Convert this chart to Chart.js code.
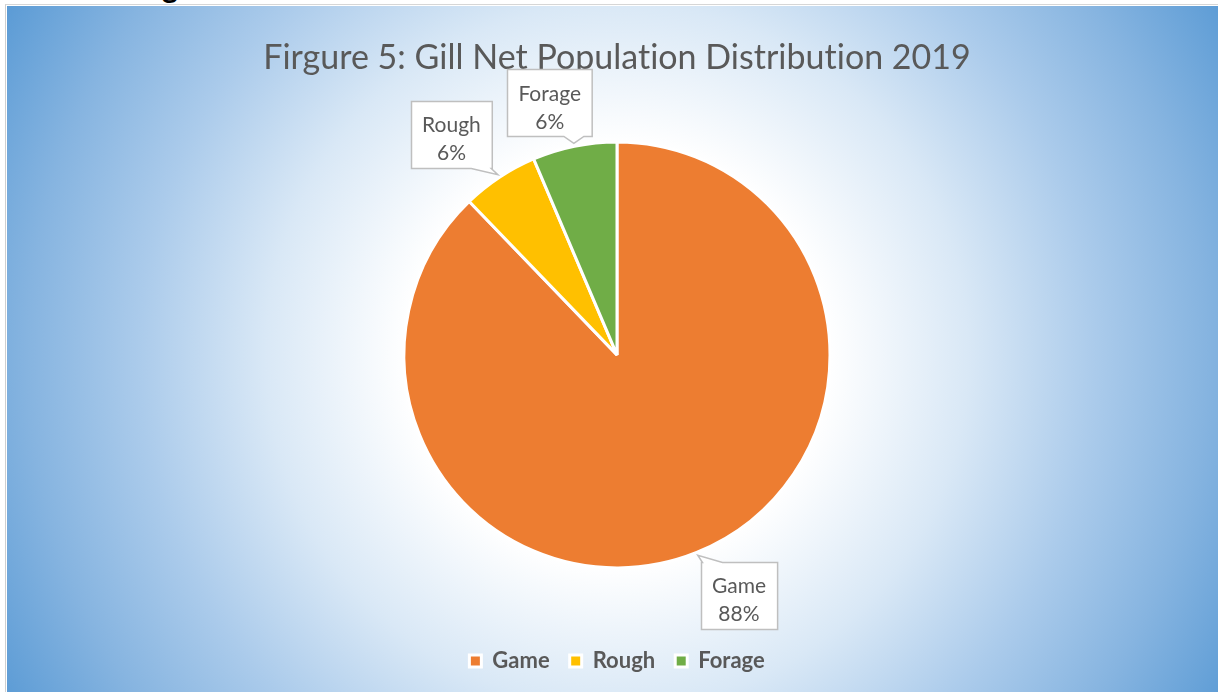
<!DOCTYPE html>
<html>
<head>
<meta charset="utf-8">
<title>Gill Net Population Distribution 2019</title>
<script src="https://cdn.jsdelivr.net/npm/chart.js@4.4.1/dist/chart.umd.min.js"></script>
<style>
  html, body { margin: 0; padding: 0; background: #fff; width: 1218px; height: 692px; overflow: hidden; }
  #cut { position: absolute; left: 150px; top: 0; width: 60px; height: 4px; overflow: hidden; }
  #cut span { position: absolute; left: 12px; top: -29px; font: bold 30px/30px Lato, sans-serif; color: #000; }
  #frame { position: absolute; left: 5px; top: 4px; width: 1213px; height: 688px; box-sizing: border-box;
           border-left: 1px solid #cfcfcf; border-top: 1px solid #d6d6d6; }
  #wrap { position: absolute; left: 7px; top: 6px; width: 1211px; height: 686px; }
</style>
</head>
<body>
<div id="cut"><span>g</span></div>
<div id="frame"></div>
<div id="wrap"><canvas id="pieChart"></canvas></div>
<script>
// data
const categories = ['Game', 'Rough', 'Forage'];
const shares = [87.8, 5.8, 6.4];
const sliceColors = ['#ED7D31', '#FFC000', '#70AD47'];
const chartTitle = 'Firgure 5: Gill Net Population Distribution 2019';

const FONT = 'Lato, "Open Sans", sans-serif';
const TEXT = '#595959';

// radial background, white in the middle and blue at the edges
const backdrop = {
  id: 'backdrop',
  beforeDraw(chart) {
    const { ctx, width, height, chartArea } = chart;
    // tiny spacing so the canvas text has no "ti" ligatures
    ctx.letterSpacing = '0.01px';
    const cx = (chartArea.left + chartArea.right) / 2;
    const cy = (chartArea.top + chartArea.bottom) / 2;
    const r = Math.max(
      Math.hypot(cx, cy), Math.hypot(width - cx, cy),
      Math.hypot(cx, height - cy), Math.hypot(width - cx, height - cy)
    );
    const g = ctx.createRadialGradient(cx, cy, 0, cx, cy, r);
    g.addColorStop(0, '#ffffff');
    g.addColorStop(0.3, '#ffffff');
    g.addColorStop(0.5, '#d9e8f6');
    g.addColorStop(0.68, '#abcbeb');
    g.addColorStop(0.84, '#86b4e0');
    g.addColorStop(1, '#5b9bd5');
    ctx.save();
    ctx.fillStyle = g;
    ctx.fillRect(0, 0, width, height);
    ctx.restore();
  }
};

function boxPath(ctx, l, t, r, b, tip) {
  const clamp = (v, lo, hi) => Math.min(Math.max(v, lo), hi);
  const half = 10;
  ctx.beginPath();
  ctx.moveTo(l, t);
  if (tip.y < t) {
    const c = clamp(tip.x, l + half + 1, r - half - 1);
    ctx.lineTo(c - half, t); ctx.lineTo(tip.x, tip.y); ctx.lineTo(c + half, t);
  }
  ctx.lineTo(r, t);
  if (tip.x > r && tip.y >= t && tip.y <= b) {
    const c = clamp(tip.y, t + half + 1, b - half - 1);
    ctx.lineTo(r, c - half); ctx.lineTo(tip.x, tip.y); ctx.lineTo(r, c + half);
  }
  ctx.lineTo(r, b);
  if (tip.y > b) {
    const c = clamp(tip.x, l + half + 1, r - half - 1);
    ctx.lineTo(c + half, b); ctx.lineTo(tip.x, tip.y); ctx.lineTo(c - half, b);
  }
  ctx.lineTo(l, b);
  if (tip.x < l && tip.y >= t && tip.y <= b) {
    const c = clamp(tip.y, t + half + 1, b - half - 1);
    ctx.lineTo(l, c + half); ctx.lineTo(tip.x, tip.y); ctx.lineTo(l, c - half);
  }
  ctx.closePath();
}

// data callouts (name + percent) like the Office ones
const callouts = {
  id: 'callouts',
  afterDatasetsDraw(chart) {
    const ctx = chart.ctx;
    const meta = chart.getDatasetMeta(0);
    const total = shares.reduce((a, b) => a + b, 0);
    const clamp1 = v => Math.min(Math.max(v, -1), 1);
    ctx.save();
    ctx.font = `21px ${FONT}`;
    ctx.textAlign = 'center';
    ctx.textBaseline = 'middle';
    meta.data.forEach((arc, i) => {
      const { x, y, startAngle, endAngle, outerRadius } =
        arc.getProps(['x', 'y', 'startAngle', 'endAngle', 'outerRadius'], true);
      const mid = (startAngle + endAngle) / 2;
      const cos = Math.cos(mid), sin = Math.sin(mid);
      const tip = { x: x + cos * (outerRadius + 3), y: y + sin * (outerRadius + 3) };
      const lines = [categories[i], Math.round(shares[i] / total * 100) + '%'];
      const w = Math.max(...lines.map(t => ctx.measureText(t).width)) + 22;
      const h = 67;
      // box sits just off the tip, pushed away from the pie
      const bx = tip.x + (w / 2 + 6) * clamp1(cos * 2.5);
      const by = tip.y + (h / 2 + 7) * clamp1(sin * 2.5);
      const l = Math.round(bx - w / 2) + 0.5, t = Math.round(by - h / 2) + 0.5;
      boxPath(ctx, l, t, l + w, t + h, tip);
      ctx.fillStyle = '#ffffff';
      ctx.fill();
      ctx.lineWidth = 1.5;
      ctx.strokeStyle = '#bfbfbf';
      ctx.stroke();
      ctx.fillStyle = TEXT;
      ctx.fillText(lines[0], bx, by - 9);
      ctx.fillText(lines[1], bx, by + 19);
    });
    ctx.restore();
  }
};

const ctx = document.getElementById('pieChart');
new Chart(ctx, {
  type: 'pie',
  data: {
    labels: categories,
    datasets: [{
      data: shares,
      backgroundColor: sliceColors,
      borderColor: '#ffffff',
      borderWidth: 3,
      radius: 213,
    }],
  },
  options: {
    responsive: true,
    maintainAspectRatio: false,
    animation: false,
    layout: { padding: { left: 9, top: 0, bottom: 10 } },
    plugins: {
      title: {
        display: true,
        text: chartTitle,
        color: TEXT,
        font: { family: FONT, size: 34, weight: 'normal' },
        padding: { top: 32, bottom: 1 },
        z: 1, // drawn over the callout boxes, like the original
      },
      legend: {
        position: 'bottom',
        labels: {
          color: TEXT,
          font: { family: FONT, size: 22, weight: 'bold' },
          boxWidth: 12,
          boxHeight: 12,
          padding: 20,
        },
      },
      tooltip: { enabled: false },
    },
  },
  plugins: [backdrop, callouts],
});
</script>
</body>
</html>
